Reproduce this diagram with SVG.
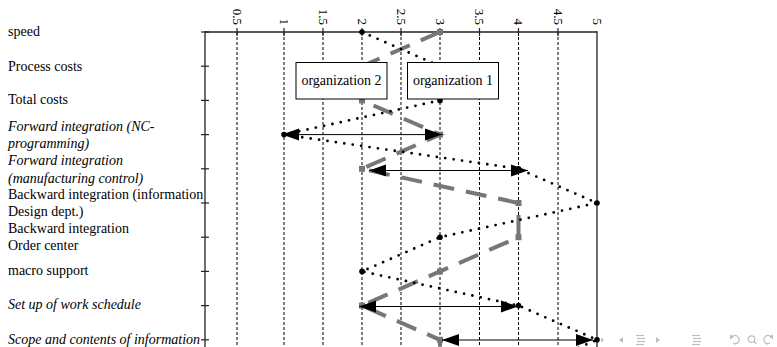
<svg xmlns="http://www.w3.org/2000/svg" width="777" height="347" viewBox="0 0 777 347">
<style>
  .lbl { font-family: "Liberation Serif", "Times New Roman", serif; font-size: 14px; fill: #000; }
  .it { font-style: italic; }
  .num { font-family: "Liberation Serif", "Times New Roman", serif; font-size: 13px; fill: #000; text-anchor: end; }
  .grid { stroke: #000; stroke-width: 1; stroke-dasharray: 3 2; fill: none; }
  .axis { stroke: #222; stroke-width: 1.3; fill: none; }
  .org1 { stroke: #000; stroke-width: 2.8; stroke-dasharray: 0 8.5; stroke-linecap: round; fill: none; }
  .org2 { stroke: #777; stroke-width: 4; stroke-dasharray: 21 12; fill: none; }
  .rng { stroke: #000; stroke-width: 1; fill: none; marker-start: url(#ah); marker-end: url(#ah); }
  .box { fill: #fff; stroke: #000; stroke-width: 1; }
  .nav { fill: #bdbdbd; stroke: none; }
  .navl { stroke: #bdbdbd; stroke-width: 1.2; fill: none; }
</style>
<defs>
  <marker id="ah" markerUnits="userSpaceOnUse" markerWidth="18" markerHeight="13" refX="17" refY="6.5" orient="auto-start-reverse">
    <path d="M0,0.5 L17,6.5 L0,12.5 z" fill="#000"/>
  </marker>
  <rect id="sq" x="-3" y="-3" width="6" height="6" fill="#777"/>
  <circle id="dt" r="2.8" fill="#000"/>
</defs>

<rect width="777" height="347" fill="#fff"/>

<g id="grid">
  <line class="grid" x1="237" y1="32" x2="237" y2="347"/>
  <line class="grid" x1="284" y1="32" x2="284" y2="347"/>
  <line class="grid" x1="323" y1="32" x2="323" y2="347"/>
  <line class="grid" x1="362" y1="32" x2="362" y2="347"/>
  <line class="grid" x1="401" y1="32" x2="401" y2="347"/>
  <line class="grid" x1="440" y1="32" x2="440" y2="347"/>
  <line class="grid" x1="479.5" y1="32" x2="479.5" y2="347"/>
  <line class="grid" x1="518.5" y1="32" x2="518.5" y2="347"/>
  <line class="grid" x1="558" y1="32" x2="558" y2="347"/>
</g>

<g id="axes">
  <line class="axis" x1="205" y1="32" x2="597" y2="32"/>
  <line class="axis" x1="205" y1="31" x2="205" y2="347"/>
  <line class="axis" x1="597" y1="31" x2="597" y2="347"/>
  <g stroke="#222" stroke-width="1.2">
    <line x1="237" y1="28" x2="237" y2="36"/>
    <line x1="284" y1="28" x2="284" y2="36"/>
    <line x1="323" y1="28" x2="323" y2="36"/>
    <line x1="362" y1="28" x2="362" y2="36"/>
    <line x1="401" y1="28" x2="401" y2="36"/>
    <line x1="440" y1="28" x2="440" y2="36"/>
    <line x1="479.5" y1="28" x2="479.5" y2="36"/>
    <line x1="518.5" y1="28" x2="518.5" y2="36"/>
    <line x1="558" y1="28" x2="558" y2="36"/>
    <line x1="201" y1="32" x2="209" y2="32"/>
    <line x1="201" y1="66.2" x2="209" y2="66.2"/>
    <line x1="201" y1="100.4" x2="209" y2="100.4"/>
    <line x1="201" y1="134.6" x2="209" y2="134.6"/>
    <line x1="201" y1="168.8" x2="209" y2="168.8"/>
    <line x1="201" y1="203" x2="209" y2="203"/>
    <line x1="201" y1="237.2" x2="209" y2="237.2"/>
    <line x1="201" y1="271.4" x2="209" y2="271.4"/>
    <line x1="201" y1="305.6" x2="209" y2="305.6"/>
    <line x1="201" y1="339.8" x2="209" y2="339.8"/>
  </g>
  <text class="num" transform="translate(232.5,25) rotate(90)">0.5</text>
  <text class="num" transform="translate(279.5,25) rotate(90)">1</text>
  <text class="num" transform="translate(318.5,25) rotate(90)">1.5</text>
  <text class="num" transform="translate(357.5,25) rotate(90)">2</text>
  <text class="num" transform="translate(396.5,25) rotate(90)">2.5</text>
  <text class="num" transform="translate(435.5,25) rotate(90)">3</text>
  <text class="num" transform="translate(475,25) rotate(90)">3.5</text>
  <text class="num" transform="translate(514,25) rotate(90)">4</text>
  <text class="num" transform="translate(553.5,25) rotate(90)">4.5</text>
  <text class="num" transform="translate(592.5,25) rotate(90)">5</text>
</g>

<g id="labels">
  <text class="lbl" x="8" y="36">speed</text>
  <text class="lbl" x="8" y="71">Process costs</text>
  <text class="lbl" x="8" y="104">Total costs</text>
  <text class="lbl it" x="8" y="131">Forward integration (NC-</text>
  <text class="lbl it" x="8" y="148">programming)</text>
  <text class="lbl it" x="8" y="165">Forward integration</text>
  <text class="lbl it" x="8" y="183">(manufacturing control)</text>
  <text class="lbl" x="8" y="199">Backward integration (information</text>
  <text class="lbl" x="8" y="216">Design dept.)</text>
  <text class="lbl" x="8" y="233">Backward integration</text>
  <text class="lbl" x="8" y="250">Order center</text>
  <text class="lbl" x="8" y="275">macro support</text>
  <text class="lbl it" x="8" y="309">Set up of work schedule</text>
  <text class="lbl it" x="8" y="344">Scope and contents of information</text>
</g>

<g id="connectors">
  <polyline class="org2" points="440,32 362,66.2 362,100.4 440,134.6 362,168.8 518.5,203 518.5,237.2 440,271.4 362,305.6 440,339.8 440,374"/>
  <polyline class="org1" points="362,32 440,66.2 440,100.4 284,134.6 518.5,168.8 597,203 440,237.2 362,271.4 518.5,305.6 597,339.8 518.5,374"/>
  <g id="org2-markers">
    <use href="#sq" x="440" y="32"/>
    <use href="#sq" x="362" y="66.2"/>
    <use href="#sq" x="362" y="100.4"/>
    <use href="#sq" x="440" y="134.6"/>
    <use href="#sq" x="362" y="168.8"/>
    <use href="#sq" x="518.5" y="203"/>
    <use href="#sq" x="518.5" y="237.2"/>
    <use href="#sq" x="440" y="271.4"/>
    <use href="#sq" x="362" y="305.6"/>
    <use href="#sq" x="440" y="339.8"/>
  </g>
  <g id="org1-markers">
    <use href="#dt" x="362" y="32"/>
    <use href="#dt" x="440" y="66.2"/>
    <use href="#dt" x="440" y="100.4"/>
    <use href="#dt" x="284" y="134.6"/>
    <use href="#dt" x="518.5" y="168.8"/>
    <use href="#dt" x="597" y="203"/>
    <use href="#dt" x="440" y="237.2"/>
    <use href="#dt" x="362" y="271.4"/>
    <use href="#dt" x="518.5" y="305.6"/>
    <use href="#dt" x="597" y="339.8"/>
  </g>
  <line class="rng" x1="282" y1="134.6" x2="442" y2="134.6"/>
  <line class="rng" x1="369" y1="170.5" x2="528" y2="170.5"/>
  <line class="rng" x1="359" y1="306.5" x2="518" y2="306.5"/>
  <line class="rng" x1="442" y1="340" x2="593" y2="340"/>
</g>

<g id="organization2">
  <rect class="box" x="296" y="62.5" width="91" height="36.5"/>
  <text class="lbl" x="341.5" y="85" text-anchor="middle">organization 2</text>
</g>
<g id="organization1">
  <rect class="box" x="407.5" y="62.5" width="91" height="36.5"/>
  <text class="lbl" x="453" y="85" text-anchor="middle">organization 1</text>
</g>

<g id="navigation">
  <polygon class="nav" points="601,337.5 604,340 601,342.5"/>
  <polygon class="nav" points="623,337 619,340 623,343"/>
  <g class="navl">
    <line x1="636" y1="335.5" x2="644" y2="335.5"/>
    <line x1="637" y1="338.5" x2="645" y2="338.5"/>
    <line x1="637" y1="341.5" x2="645" y2="341.5"/>
    <line x1="636" y1="344.5" x2="644" y2="344.5"/>
  </g>
  <polygon class="nav" points="656,337 660,340 656,343"/>
  <g class="navl">
    <line x1="692" y1="335.5" x2="700" y2="335.5"/>
    <line x1="693" y1="338.5" x2="701" y2="338.5"/>
    <line x1="693" y1="341.5" x2="701" y2="341.5"/>
    <line x1="692" y1="344.5" x2="700" y2="344.5"/>
    <path d="M732,337 A4,4 0 1 1 733,343"/>
    <circle cx="751.5" cy="339" r="3.2"/>
    <line x1="753.8" y1="341.3" x2="756.5" y2="344"/>
    <path d="M771,337 A4,4 0 1 0 770,343"/>
  </g>
  <polygon class="nav" points="730,334.5 734,336.5 730,339.5"/>
  <polygon class="nav" points="773,334.5 769,336.5 773,339.5"/>
</g>
</svg>
